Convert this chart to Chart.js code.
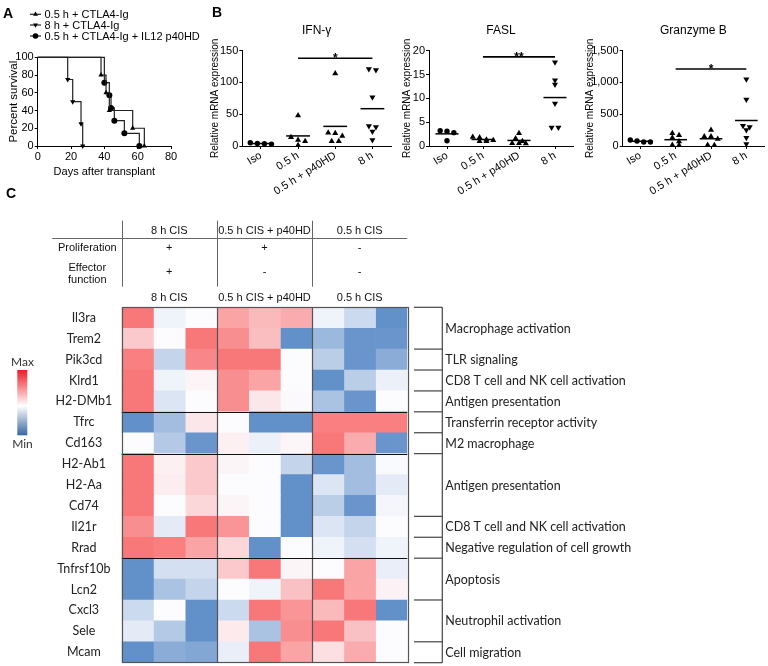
<!DOCTYPE html>
<html>
<head>
<meta charset="utf-8">
<script src="https://cdn.jsdelivr.net/npm/chart.js@4.4.0/dist/chart.umd.min.js"></script>
<style>
  body { margin: 0; background: #fff; }
  #fig { position: relative; width: 768px; height: 666px; overflow: hidden; font-family: "Liberation Sans", Arial, sans-serif; }
  #fig canvas { position: absolute; }
  .panel { position: absolute; font-weight: bold; font-size: 14px; line-height: 14px; }
</style>
</head>
<body>
<div id="fig">
  <canvas id="survival" width="205" height="185" style="left:0;top:0"></canvas>
  <canvas id="ifng" width="188" height="200" style="left:208px;top:0"></canvas>
  <canvas id="fasl" width="178" height="200" style="left:400px;top:0"></canvas>
  <canvas id="gzmb" width="185" height="200" style="left:583px;top:0"></canvas>
  <canvas id="heatmap" width="768" height="481" style="left:0;top:185px"></canvas>
  <div class="panel" style="left:3px;top:6px">A</div>
  <div class="panel" style="left:212px;top:5px">B</div>
  <div class="panel" style="left:6px;top:186px">C</div>
</div>
<script>
// ---- panel A: survival ----
const survivalGroups = ['0.5 h + CTLA4-Ig', '8 h + CTLA4-Ig', '0.5 h + CTLA4-Ig + IL12 p40HD'];
const survivalDays = [
  [0, 38, 41, 43, 57, 64],
  [0, 18, 21, 26, 27],
  [0, 40, 43, 44, 46, 52, 61]
];
const survivalPercent = [
  [100, 80, 60, 40, 20, 0],
  [100, 75, 50, 25, 0],
  [100, 71.4, 57.1, 42.9, 28.6, 14.3, 0]
];

// ---- panel B: qPCR ----
const treatments = ['Iso', '0.5 h', '0.5 h + p40HD', '8 h'];
const ifngValues = [[3, 5, 3.5, 4], [13.6, 9.4, 7.3, 48, 1], [20, 21, 15.7, 114, 7.3, 7.3], [119.6, 121, 76.6, 30, 31.5, 23, 9.4]];
const faslValues = [[3.2, 2.8, 3.1, 1.1], [1.8, 1.3, 1.9, 1.2, 1.0, 1.0], [2.7, 1.6, 1.0, 0.6, 0.6, 0.5], [17.6, 13.8, 12.9, 8.9, 3.9, 3.9]];
const gzmbValues = [[63, 94, 63, 79], [200, 170, 130, 70, 10, 15], [250, 150, 150, 110, 15, 10], [1050, 730, 320, 300, 250, 130, 30]];
// from group, to group, height, label
const ifngSig = [1, 3, 138, '*'];
const faslSig = [1, 3, 18.7, '**'];
const gzmbSig = [1, 3, 1211, '*'];

// ---- panel C: heatmap ----
const conditions = ['8 h CIS', '0.5 h CIS + p40HD', '0.5 h CIS'];
const proliferation = ['+', '+', '-'];
const effectorFunction = ['+', '-', '-'];
const replicates = 3;
const geneNames = ['Il3ra', 'Trem2', 'Pik3cd', 'Klrd1', 'H2-DMb1', 'Tfrc', 'Cd163', 'H2-Ab1', 'H2-Aa', 'Cd74',
  'Il21r', 'Rrad', 'Tnfrsf10b', 'Lcn2', 'Cxcl3', 'Sele', 'Mcam'];
// scaled expression, -1 = min (blue) .. 1 = max (red)
const heatValues = [
  [0.9, -0.08, 0, 0.6, 0.45, 0.55, -0.08, -0.3, -0.95],
  [0.35, 0, 0.9, 0.75, 0.42, -0.95, -0.6, -0.9, -0.9],
  [0.85, -0.35, 0.8, 0.9, 0.9, 0, -0.4, -0.9, -0.7],
  [0.9, -0.08, 0.05, 0.75, 0.6, 0, -0.95, -0.4, -0.1],
  [0.9, -0.2, 0, 0.75, 0.15, 0.02, -0.5, -0.9, 0],
  [-0.95, -0.55, 0.15, 0, -0.95, -0.95, 0.85, 0.85, 0.85],
  [0, -0.45, -0.9, 0.08, -0.1, 0.04, 0.9, 0.55, -0.9],
  [0.9, 0.08, 0.35, 0.05, 0, -0.35, -0.9, -0.55, -0.02],
  [0.9, 0.1, 0.35, 0, 0, -0.95, -0.2, -0.55, -0.15],
  [0.9, 0, 0.25, 0.05, 0, -0.95, -0.4, -0.9, -0.05],
  [0.75, -0.15, 0.9, 0.7, 0, -0.95, -0.2, -0.35, 0],
  [0.9, 0.85, 0.6, 0.25, -0.95, 0, -0.08, -0.25, -0.08],
  [-0.95, -0.25, -0.25, 0.35, 0.9, 0.05, 0, 0.6, -0.12],
  [-0.95, -0.5, -0.35, 0, -0.08, 0.4, 0.9, 0.6, 0.07],
  [-0.3, 0, -0.95, -0.3, 0.9, 0.7, 0.45, 0.9, -0.95],
  [-0.15, -0.45, -0.95, 0.12, -0.5, 0.75, 0.9, 0.4, 0],
  [-0.95, -0.7, -0.75, -0.12, 0.9, 0.6, 0.2, 0.55, 0]
];
const clusterBreaks = [5, 7, 12];
const pathwayNames = ['Macrophage activation', 'TLR signaling', 'CD8 T cell and NK cell activation', 'Antigen presentation',
  'Transferrin receptor activity', 'M2 macrophage', 'Antigen presentation', 'CD8 T cell and NK cell activation',
  'Negative regulation of cell growth', 'Apoptosis', 'Neutrophil activation', 'Cell migration'];
const pathwayRows = [2, 1, 1, 1, 1, 1, 3, 1, 1, 2, 2, 1];

Chart.defaults.font.family = '"Liberation Sans", Arial, sans-serif';
Chart.defaults.font.size = 11;
Chart.defaults.color = '#000';
Chart.defaults.animation = false;
Chart.defaults.plugins.legend.display = false;
Chart.defaults.plugins.tooltip.enabled = false;

const survivalMarkers = ['triangle', 'triangle', 'circle'];
const survivalRotation = [0, 180, 0];
const groupMarkers = ['circle', 'triangle', 'triangle', 'triangle'];
const groupRotation = [0, 0, 0, 180];

function axisGrid() {
  return { drawOnChartArea: false, tickLength: 3, color: '#000', lineWidth: 1 };
}

// legend for the survival curves (line + marker + text)
const survivalLegend = {
  id: 'survivalLegend',
  afterDraw(chart) {
    const ctx = chart.ctx;
    const rows = [14.3, 25, 36];
    ctx.save();
    chart.data.datasets.forEach((ds, i) => {
      const y = rows[i];
      ctx.strokeStyle = '#222';
      ctx.lineWidth = 1.2;
      ctx.beginPath(); ctx.moveTo(30, y); ctx.lineTo(41, y); ctx.stroke();
      ctx.fillStyle = '#000';
      ctx.strokeStyle = '#000';
      Chart.helpers.drawPoint(ctx, { pointStyle: ds.pointStyle, rotation: ds.pointRotation, radius: 2.8, borderWidth: 0 }, 35.5, y);
      ctx.font = '11px "Liberation Sans", Arial, sans-serif';
      ctx.textBaseline = 'middle';
      ctx.textAlign = 'left';
      ctx.fillText(ds.label, 44.5, y + 0.5);
    });
    ctx.restore();
  }
};

new Chart(document.getElementById('survival'), {
  type: 'line',
  data: {
    datasets: survivalGroups.map((name, i) => ({
      label: name,
      data: survivalDays[i].map((d, k) => ({ x: d, y: survivalPercent[i][k] })),
      stepped: true,
      borderColor: '#222',
      borderWidth: 1.2,
      pointStyle: survivalMarkers[i],
      pointRotation: survivalRotation[i],
      pointRadius: ctx => ctx.dataIndex === 0 ? 0 : 3,
      pointBorderWidth: 0,
      pointBackgroundColor: '#000',
      pointBorderColor: '#000',
      clip: false
    }))
  },
  options: {
    responsive: false,
    layout: { padding: { left: 0, right: 34, top: 57.3, bottom: 0 } },
    scales: {
      x: {
        type: 'linear', min: 0, max: 80,
        ticks: { stepSize: 20, padding: 1 },
        grid: axisGrid(), border: { color: '#000' },
        title: { display: true, text: 'Days after transplant', font: { size: 11 }, padding: { top: 0, bottom: 6.4 } },
        afterFit: s => { s.height = 39; }
      },
      y: {
        min: 0, max: 100,
        ticks: { stepSize: 20, padding: 1 },
        grid: axisGrid(), border: { color: '#000' },
        title: { display: true, text: 'Percent survival', font: { size: 11.5 }, padding: { top: 7.4, bottom: 0 } },
        afterFit: s => { s.width = 37.7; }
      }
    }
  },
  plugins: [survivalLegend]
});

// ---- expression scatter panels ----
function swarmOffsets(vals, thr, step) {
  const order = vals.map((v, k) => k).sort((a, b) => vals[b] - vals[a]);
  const offs = new Array(vals.length).fill(0);
  let row = [];
  const flush = () => {
    row.forEach((k, i) => { offs[k] = (i - (row.length - 1) / 2) * step; });
    row = [];
  };
  order.forEach(k => {
    if (row.length && vals[row[0]] - vals[k] >= thr) flush();
    row.push(k);
  });
  flush();
  return offs;
}

const panelDecor = {
  id: 'panelDecor',
  afterDraw(chart, args, opts) {
    const { ctx, chartArea: a, scales: { x, y } } = chart;
    ctx.save();
    ctx.fillStyle = '#000';
    ctx.textAlign = 'center';
    ctx.font = '12px "Liberation Sans", Arial, sans-serif';
    ctx.textBaseline = 'middle';
    ctx.fillText(opts.title, (a.left + a.right) / 2, 31);
    const s = opts.sig;
    ctx.font = 'bold 12px "Liberation Sans", Arial, sans-serif';
    ctx.textBaseline = 'alphabetic';
    ctx.fillText(s[3], (x.getPixelForValue(s[0]) + x.getPixelForValue(s[1])) / 2, y.getPixelForValue(s[2]) + 4);
    ctx.restore();
  }
};

function expressionChart(id, title, values, yMax, yStep, sig, yAxisWidth, padRight) {
  const thr = yMax * 0.045;
  const datasets = [];
  values.forEach((vals, g) => {
    const offs = swarmOffsets(vals, thr, 0.19);
    datasets.push({
      data: vals.map((v, k) => ({ x: g + offs[k], y: v })),
      pointStyle: groupMarkers[g],
      pointRotation: groupRotation[g],
      pointRadius: g === 0 ? 2.7 : 3.5,
      pointBorderWidth: 0,
      pointBackgroundColor: '#000',
      pointBorderColor: '#000',
      clip: false
    });
    const mean = vals.reduce((p, c) => p + c, 0) / vals.length;
    datasets.push({
      data: [{ x: g - 0.32, y: mean }, { x: g + 0.32, y: mean }],
      showLine: true, borderColor: '#000', borderWidth: 1.5, pointRadius: 0, clip: false
    });
  });
  datasets.push({
    data: [{ x: sig[0], y: sig[2] }, { x: sig[1], y: sig[2] }],
    showLine: true, borderColor: '#000', borderWidth: 1.6, pointRadius: 0, clip: false
  });
  new Chart(document.getElementById(id), {
    type: 'scatter',
    data: { datasets },
    options: {
      responsive: false,
      layout: { padding: { left: 0, right: padRight, top: 50.7, bottom: 0 } },
      scales: {
        x: {
          type: 'linear', min: -0.5, max: 3.5,
          afterBuildTicks: s => { s.ticks = treatments.map((t, i) => ({ value: i })); },
          ticks: { callback: (v, i) => treatments[i], minRotation: 32, maxRotation: 32, autoSkip: false, padding: 0 },
          grid: axisGrid(), border: { color: '#000' },
          afterFit: s => { s.height = 54; }
        },
        y: {
          min: 0, max: yMax,
          ticks: { stepSize: yStep, padding: 1 },
          grid: axisGrid(), border: { color: '#000' },
          title: { display: true, text: 'Relative mRNA expression', font: { size: 10 }, padding: { top: 1, bottom: 0 } },
          afterFit: s => { s.width = yAxisWidth; }
        }
      },
      plugins: { panelDecor: { title, sig } }
    },
    plugins: [panelDecor]
  });
}

expressionChart('ifng', 'IFN-\u03b3', ifngValues, 150, 50, ifngSig, 34.3, 5);
expressionChart('fasl', 'FASL', faslValues, 20, 5, faslSig, 29, 5);
expressionChart('gzmb', 'Granzyme B', gzmbValues, 1500, 500, gzmbSig, 39.7, 2);

// ---- heatmap ----
function heatColor(v) {
  const mid = [252, 252, 255];
  const end = v >= 0 ? [248, 105, 107] : [90, 138, 198];
  const t = Math.min(1, Math.abs(v));
  return 'rgb(' + mid.map((c, i) => Math.round(c + (end[i] - c) * t)).join(',') + ')';
}

const geneFont = '12.5px Lato, "Open Sans", sans-serif';

const heatmapDecor = {
  id: 'heatmapDecor',
  afterDraw(chart) {
    const { ctx, chartArea: a, scales: { x } } = chart;
    const rowH = (a.bottom - a.top) / geneNames.length;
    const rowEdge = r => a.top + r * rowH;
    const line = (x1, y1, x2, y2) => { ctx.beginPath(); ctx.moveTo(x1, y1); ctx.lineTo(x2, y2); ctx.stroke(); };
    const nCols = conditions.length * replicates;
    ctx.save();
    // column group separators
    ctx.strokeStyle = '#555';
    ctx.lineWidth = 1.2;
    for (let c = replicates; c < nCols; c += replicates) {
      const px = Math.round(x.getPixelForValue(c)) + 0.5;
      line(px, a.top, px, a.bottom);
    }
    // cluster separators
    ctx.strokeStyle = '#111';
    clusterBreaks.forEach(r => { const py = Math.round(rowEdge(r)) + 0.5; line(a.left, py, a.right, py); });
    ctx.strokeStyle = '#555';
    ctx.strokeRect(Math.round(a.left) + 0.5, Math.round(a.top) + 0.5, Math.round(a.right - a.left), Math.round(a.bottom - a.top));

    // pathway brackets
    ctx.strokeStyle = '#444';
    ctx.lineWidth = 1.2;
    const bx1 = 414, bx2 = 442.3;
    line(bx2, a.top, bx2, a.bottom);
    let r0 = 0;
    line(bx1, rowEdge(0), bx2, rowEdge(0));
    ctx.fillStyle = '#222';
    ctx.font = geneFont;
    ctx.textAlign = 'left';
    ctx.textBaseline = 'middle';
    pathwayNames.forEach((name, i) => {
      const r1 = r0 + pathwayRows[i];
      line(bx1, rowEdge(r1), bx2, rowEdge(r1));
      ctx.fillText(name, bx2 + 3, (rowEdge(r0) + rowEdge(r1)) / 2 + 0.5);
      r0 = r1;
    });

    // summary table
    const centers = conditions.map((c, i) => x.getPixelForValue(i * replicates + replicates / 2));
    ctx.strokeStyle = '#666';
    ctx.lineWidth = 1;
    line(52.3, 53.5, a.right, 53.5);
    conditions.forEach((c, i) => {
      const px = Math.round(x.getPixelForValue(i * replicates)) + 0.5;
      line(px, 35.7, px, 101.7);
    });
    ctx.fillStyle = '#111';
    ctx.font = '11px "Liberation Sans", Arial, sans-serif';
    ctx.textAlign = 'center';
    conditions.forEach((c, i) => {
      ctx.fillText(c, centers[i], 46);
      ctx.fillText(proliferation[i], centers[i], 63.3);
      ctx.fillText(effectorFunction[i], centers[i], 87.3);
    });
    ctx.fillText('Proliferation', 87.3, 63.3);
    ctx.fillText('Effector', 87.3, 83.3);
    ctx.fillText('function', 87.3, 94.5);

    // colour key
    const g = ctx.createLinearGradient(0, 185, 0, 250.3);
    g.addColorStop(0, '#ee1c25');
    g.addColorStop(0.55, '#ffffff');
    g.addColorStop(1, '#3b67a3');
    ctx.fillStyle = g;
    ctx.fillRect(17.3, 185, 10, 65.3);
    ctx.fillStyle = '#333';
    ctx.font = '12px Lato, "Open Sans", sans-serif';
    ctx.fillText('Max', 22.5, 176.7);
    ctx.fillText('Min', 22.5, 259);
    ctx.restore();
  }
};

new Chart(document.getElementById('heatmap'), {
  type: 'bar',
  data: {
    labels: geneNames,
    datasets: heatValues[0].map((_, j) => ({
      data: geneNames.map(() => [j, j + 1]),
      backgroundColor: ctx => heatColor(heatValues[ctx.dataIndex][j]),
      borderWidth: 0,
      grouped: false,
      categoryPercentage: 1,
      barPercentage: 1
    }))
  },
  options: {
    responsive: false,
    indexAxis: 'y',
    layout: { padding: { left: 0, right: 360.7, top: 100, bottom: 3.3 } },
    scales: {
      x: {
        type: 'linear', position: 'top', min: 0, max: conditions.length * replicates,
        afterBuildTicks: s => { s.ticks = conditions.map((c, i) => ({ value: i * replicates + replicates / 2 })); },
        ticks: { callback: (v, i) => conditions[i], maxRotation: 0, autoSkip: false, padding: 3, color: '#111' },
        grid: { display: false, drawTicks: false }, border: { display: false },
        afterFit: s => { s.height = 22.3; s.paddingLeft = 0; s.paddingRight = 0; }
      },
      y: {
        type: 'category',
        ticks: { crossAlign: 'center', padding: 9.5, autoSkip: false, color: '#222', font: { family: 'Lato, "Open Sans", sans-serif', size: 12.5 } },
        grid: { display: false, drawTicks: false }, border: { display: false },
        afterFit: s => { s.width = 121.7; s.paddingTop = 0; s.paddingBottom = 0; }
      }
    }
  },
  plugins: [heatmapDecor]
});
</script>
</body>
</html>
